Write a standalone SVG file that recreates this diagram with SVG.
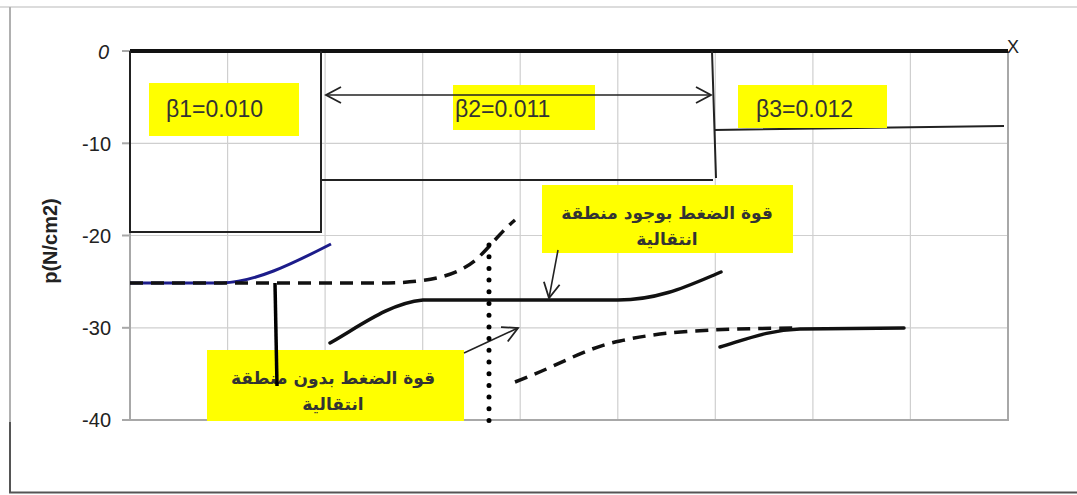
<svg xmlns="http://www.w3.org/2000/svg" width="1077" height="495" viewBox="0 0 1077 495">
<style>
.grid{stroke:#cfcfcf;stroke-width:1.2;fill:none}
.frame{stroke:#a8a8a8;stroke-width:2;fill:none}
.tick{font-family:"Liberation Sans",Arial,sans-serif;font-size:20px;fill:#222;text-anchor:end}
.zone{stroke:#222;stroke-width:2;fill:none}
.curve{stroke:#111;stroke-width:3.5;fill:none;stroke-linecap:round}
.dash{stroke:#111;stroke-width:3.5;fill:none;stroke-dasharray:13 8}
.thin{stroke:#222;stroke-width:1.6;fill:none}
.ybox{fill:#ffff00}
.blab{font-family:"Liberation Sans",Arial,sans-serif;font-size:23px;fill:#333}
.ar{font-family:"DejaVu Sans","Noto Sans",sans-serif;font-size:17px;font-weight:bold;fill:#333;text-anchor:middle}
</style>
<defs>
<marker id="chev" markerUnits="userSpaceOnUse" markerWidth="20" markerHeight="20" viewBox="-16 -10 20 20" refX="0" refY="0" orient="auto-start-reverse">
<path d="M-15,-8 L0,0 L-15,8" fill="none" stroke="#222" stroke-width="1.8"/>
</marker>
</defs>
<rect x="0" y="0" width="1077" height="495" fill="#ffffff"/>
<g id="chart-frame">
<line x1="0" y1="7" x2="1077" y2="7" stroke="#d0d0d0" stroke-width="1.5"/>
<line x1="10" y1="7" x2="10" y2="422" stroke="#b0b0b0" stroke-width="2"/>
<line x1="10" y1="422" x2="10" y2="493" stroke="#555" stroke-width="2"/>
<line x1="9" y1="492.5" x2="1077" y2="492.5" stroke="#555" stroke-width="2"/>
</g>
<g id="grid">
<line class="grid" x1="227.6" y1="51" x2="227.6" y2="420"/>
<line class="grid" x1="325.1" y1="51" x2="325.1" y2="420"/>
<line class="grid" x1="422.7" y1="51" x2="422.7" y2="420"/>
<line class="grid" x1="520.2" y1="51" x2="520.2" y2="420"/>
<line class="grid" x1="617.8" y1="51" x2="617.8" y2="420"/>
<line class="grid" x1="715.3" y1="51" x2="715.3" y2="420"/>
<line class="grid" x1="812.9" y1="51" x2="812.9" y2="420"/>
<line class="grid" x1="910.4" y1="51" x2="910.4" y2="420"/>
<line class="grid" x1="130" y1="143.3" x2="1008" y2="143.3"/>
<line class="grid" x1="130" y1="235.5" x2="1008" y2="235.5"/>
<line class="grid" x1="130" y1="327.8" x2="1008" y2="327.8"/>
<line class="frame" x1="130" y1="51" x2="130" y2="420"/>
<line class="frame" x1="1008" y1="51" x2="1008" y2="421"/>
<line class="frame" x1="122" y1="420" x2="1008" y2="420"/>
<line class="frame" x1="122" y1="51" x2="130" y2="51"/>
<line class="frame" x1="122" y1="143.3" x2="130" y2="143.3"/>
<line class="frame" x1="122" y1="235.5" x2="130" y2="235.5"/>
<line class="frame" x1="122" y1="327.8" x2="130" y2="327.8"/>
</g>
<g id="axis-labels">
<text class="tick" x="109" y="59" font-style="italic">0</text>
<text class="tick" x="111" y="151">-10</text>
<text class="tick" x="111" y="243">-20</text>
<text class="tick" x="111" y="335">-30</text>
<text class="tick" x="111" y="427">-40</text>
<text x="57" y="241" transform="rotate(-90 57 241)" font-family="Liberation Sans,Arial,sans-serif" font-size="20" font-weight="bold" fill="#222" text-anchor="middle">p(N/cm2)</text>
<text x="1013" y="53" font-family="Liberation Sans,Arial,sans-serif" font-size="18" fill="#222" text-anchor="middle">X</text>
</g>
<g id="x-axis">
<line x1="130" y1="51" x2="1008" y2="51" stroke="#111" stroke-width="4"/>
</g>
<g id="zone-1">
<path class="zone" d="M130,51 L130,232 L321,232 L321,51"/>
<rect class="ybox" x="149" y="83" width="150" height="53"/>
<text class="blab" x="166" y="117">β1=0.010</text>
</g>
<g id="zone-2">
<path class="zone" d="M322,180 L713,180"/>
<rect class="ybox" x="453" y="85" width="142" height="45"/>
<text class="blab" x="455" y="117">β2=0.011</text>
</g>
<g id="zone-3">
<path class="zone" d="M712,51 L716,178 M714,130 L1004,126"/>
<rect class="ybox" x="738" y="85" width="149" height="43"/>
<text class="blab" x="756" y="117">β3=0.012</text>
</g>
<g id="label-with-transition">
<rect class="ybox" x="542" y="185" width="251" height="68"/>
<text class="ar" x="667" y="219">قوة الضغط بوجود منطقة</text>
<text class="ar" x="667" y="245">انتقالية</text>
</g>
<g id="label-without-transition">
<rect class="ybox" x="207" y="350" width="257" height="71"/>
<text class="ar" x="333" y="384">قوة الضغط بدون منطقة</text>
<text class="ar" x="333" y="410">انتقالية</text>
</g>
<g id="connectors">
<line class="thin" x1="326" y1="95" x2="711" y2="95" marker-start="url(#chev)" marker-end="url(#chev)"/>
<path d="M130,283 L222,283 C255,282 290,265 331,244" fill="none" stroke="#1c1c8a" stroke-width="3"/>
<path class="dash" d="M130,283 L388,283 C430,282 458,276 478,258 C492,244 503,230 515,220"/>
<path class="curve" d="M330,343 C360,326 390,303 423,300 L618,300 C660,300 690,285 721,272"/>
<path class="dash" d="M515,382 C560,365 585,348 620,341 C660,332 700,329 795,328"/>
<path class="curve" d="M720,347 C750,338 770,330 800,329 L904,328"/>
<line x1="275" y1="283" x2="277" y2="386" stroke="#000" stroke-width="3.5"/>
<line class="thin" x1="558" y1="250" x2="549" y2="298" marker-end="url(#chev)"/>
<line class="thin" x1="464" y1="353" x2="518" y2="328" marker-end="url(#chev)"/>
<line x1="489" y1="245" x2="489" y2="432" stroke="#000" stroke-width="5" stroke-linecap="round" stroke-dasharray="0 11.7"/>
</g>
</svg>
